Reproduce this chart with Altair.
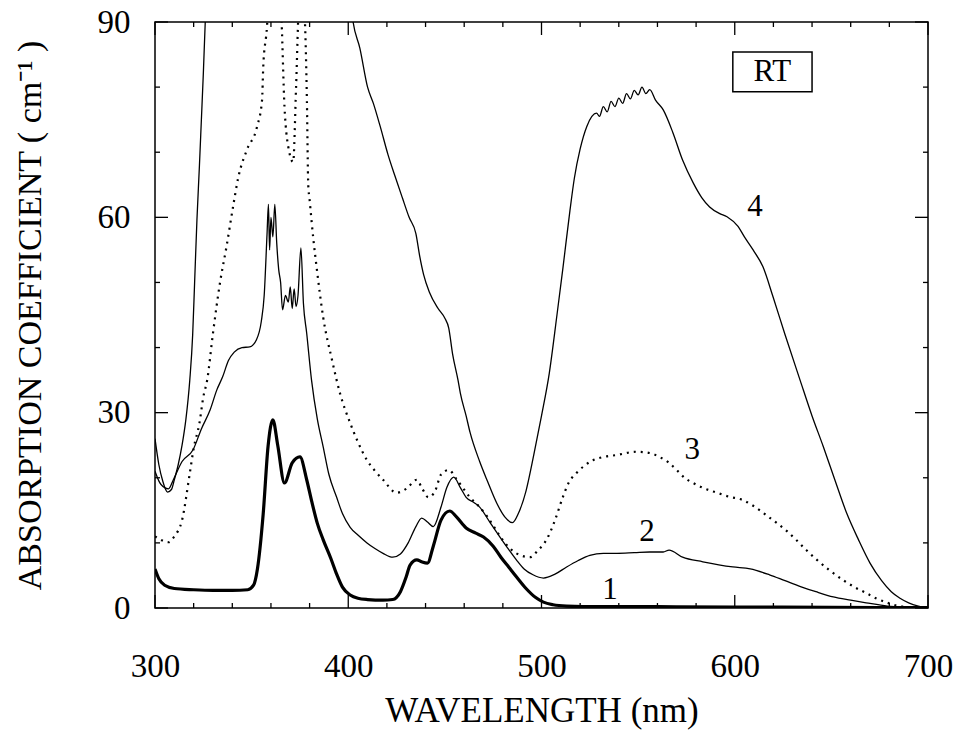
import altair as alt
import pandas as pd

# ---------------- data ----------------
wl1 = [300, 302, 305, 310, 320, 330, 340, 348, 351, 353, 356, 358.5, 361, 363.5, 367, 371, 375, 378.5,
       381, 384, 387, 391, 394, 397, 401, 405, 410, 418, 423, 427, 430, 432, 435.5, 438, 441, 444, 448, 452.5,
       456, 461, 466, 470, 475, 479, 483, 487, 492, 497, 501, 506, 513, 530, 560, 600, 650, 700]
v1 = [6.0, 4.5, 3.5, 3.0, 2.8, 2.7, 2.7, 2.8, 3.5, 6.0, 14.5, 24.8, 28.9, 25.0, 19.2, 22.3, 23.2, 19.7,
      16.5, 13.0, 10.5, 7.6, 5.2, 3.2, 2.0, 1.5, 1.3, 1.2, 1.3, 2.5, 4.8, 6.6, 7.4, 7.1, 6.9, 9.5, 13.5, 14.9,
      14.0, 12.3, 11.5, 10.9, 9.5, 7.8, 6.3, 4.8, 3.0, 1.6, 0.9, 0.5, 0.3, 0.2, 0.2, 0.15, 0.1, 0.05]

wl2 = [300, 303, 307, 309.5, 314, 319.7, 324, 328.5, 332, 335, 338, 341, 345, 349, 352.5, 355, 356.5, 358,
       358.7, 359.3, 360, 361, 362, 363, 364, 365, 366, 367.5, 369, 370, 371, 372, 373, 374, 375.5, 376.8,
       378.5, 381, 384, 387, 390, 394, 397, 401, 405, 409.7, 414, 418, 423, 427, 431, 435, 438, 441, 444,
       448, 451, 454.6, 458, 461, 465, 468, 473, 478.5, 483, 487, 491, 495.6, 501, 507, 513, 519, 525, 532,
       539, 548, 556, 563, 566, 573, 583.5, 599, 608, 618, 626, 634, 642, 651, 660, 668, 679, 690, 700]
v2 = [21, 19, 18.3, 19.7, 22.5, 24.3, 27.5, 30.4, 33.5, 35.5, 38, 39.3, 40, 40.1, 41.2, 44, 48, 57.6,
      62, 55, 60, 57, 62, 56, 52, 50, 45.8, 48, 47, 49.3, 46, 49, 46.3, 48, 55.3, 46.8,
      42.2, 35, 29, 24.8, 20.5, 17, 14.5, 12.4, 11.2, 10, 9.1, 8.4, 7.8, 8.3, 10, 12.5, 13.8, 13.2, 12.5,
      15.5, 18.5, 20.1, 18.5, 17, 16.2, 15.5, 13.3, 10.9, 9, 7.4, 6, 5.1, 4.6, 5.2, 6.3, 7.3, 8.1, 8.4,
      8.4, 8.5, 8.6, 8.6, 8.9, 7.8, 7.1, 6.3, 6.0, 5.1, 4.2, 3.3, 2.5, 1.7, 1.2, 0.8, 0.3, 0.1, 0]

wl3 = [300, 303.5, 307, 310, 314, 318, 320, 323, 325, 327, 330, 333.6, 337, 340.6, 343, 347.6, 352.8,
       355.4, 356, 358, 359, 361, 363.5, 365.5, 367, 369.5, 371.5, 373, 374.5, 376, 377.6, 378.6, 379.3,
       380, 382, 383.6, 387, 391.6, 395.7, 401, 405, 409.7, 414, 418, 425, 430, 435.5, 438, 441.5, 445,
       448, 452, 456, 463, 468, 472, 476, 480, 485, 489, 494, 498, 503, 507, 511, 514, 518, 522, 526.7,
       532, 539, 549, 556, 561, 566, 570, 574, 578.5, 584, 590.8, 597, 604, 609, 613, 617, 622, 627, 632,
       637, 642.5, 649, 656, 662, 668, 673, 679, 687, 695, 700]
v3 = [11, 10.4, 10.1, 11, 13.5, 20.7, 24.5, 28.4, 32.4, 35, 42.2, 49.9, 55.5, 62, 66, 70.4, 73.9,
      78, 83, 89.5, 95, 100, 97, 90, 77, 70, 68.5, 80, 93, 96, 90, 78, 65,
      62.7, 56.5, 52.4, 44.7, 38.1, 33, 28.4, 25.5, 22.7, 21, 19.7, 17.7, 18.3, 19.7, 18.5, 17, 18,
      20.5, 21.2, 19.8, 17, 15.5, 14, 12.2, 10.4, 8.8, 8.1, 7.8, 8.8, 10.7, 13.5, 17, 19.2, 20.7, 21.8, 22.7,
      23.2, 23.5, 24, 23.8, 23.2, 22.3, 21.2, 20, 19.2, 18.4, 17.7, 17.1, 16.6, 15.8, 15, 14.1, 13, 11.8, 10.4,
      8.9, 7.4, 5.8, 4.3, 3.2, 2.3, 1.5, 0.8, 0.2, 0.05, 0]

wl4 = [300, 302, 304, 306.5, 308.5, 310, 312, 314, 316, 318, 319.5, 320.5, 321.7, 323, 324, 325, 326,
       327, 328, 329, 399, 402.5, 406, 410, 413, 416.5, 420.6, 424, 428, 431.5, 435, 437, 439, 442, 446.5,
       450, 452, 454, 456.8, 458, 461, 463, 468, 472, 477, 481, 485, 488, 492, 496, 500, 504, 508, 511,
       514.7, 517, 520, 523.5, 528.5, 530, 532, 534, 536, 538, 540, 542, 544, 546, 548, 550, 552, 554,
       556, 559, 563, 568, 573, 578.5, 583, 587, 592, 596, 601.7, 605, 609.5, 614.6, 619.8, 626, 633.8,
       640, 645.8, 652, 658, 664, 670, 676, 681, 685.5, 690, 695, 700]
v4 = [26, 22, 19.5, 17.8, 18.2, 19.7, 22, 25, 29, 35, 42, 50, 59.6, 68, 75, 82, 90,
      96, 100, 105, 100, 90, 86, 80, 77.5, 74, 69.6, 66.5, 63, 60, 57.5, 54, 51.2, 48.5, 46,
      44.5, 43, 39, 35, 33, 29.5, 27, 22.5, 19.5, 16, 14, 13.1, 14.5, 18, 23.5, 29.5, 36, 45, 52,
      61, 66, 70.5, 74, 76, 75.5, 77, 76.2, 77.8, 77, 78.3, 77.5, 79, 78.2, 79.5, 78.8, 80, 79,
      79.6, 78, 76.5, 73, 68.8, 65.3, 63, 61.6, 60.6, 60.1, 58.6, 57, 55, 52.4, 47.8, 42, 35,
      29.5, 24.8, 19.5, 14.5, 10.5, 6.9, 4.2, 2.5, 1.5, 0.8, 0.3, 0]

label_text = ["1", "2", "3", "4"]
label_wl = [535.5, 554.6, 578, 610.5]
label_v = [2.8, 11.7, 24.3, 61.6]

rt_text = ["RT"]
rt_wl = [599, 640]
rt_v = [79.3, 85.4]

x_major = [300, 400, 500, 600, 700]
x_minor = [320, 340, 360, 380, 420, 440, 460, 480, 520, 540, 560, 580, 620, 640, 660, 680]
y_major = [0, 30, 60, 90]
y_minor = [10, 20, 40, 50, 70, 80]

# ---------------- chart ----------------
W, H = 773, 586
FONT = "Liberation Serif"
MAJ, MIN = 13, 5

xs = alt.Scale(domain=[300, 700], nice=False, zero=False)
ys = alt.Scale(domain=[0, 90], nice=False, zero=False)

x_axis = alt.Axis(values=x_major, ticks=False, domain=False, grid=False, labelFlush=False,
                  labelFont=FONT, labelFontSize=33, labelPadding=42, labelColor="black",
                  title="WAVELENGTH (nm)", titleFont=FONT, titleFontSize=35, titleFontWeight="normal",
                  titleColor="black", titlePadding=10, format="d")
y_axis = alt.Axis(values=y_major, ticks=False, domain=False, grid=False, labelFlush=False,
                  labelFont=FONT, labelFontSize=33, labelPadding=25, labelColor="black",
                  title="ABSORPTION COEFFICIENT ( cm\u207B\u00B9 )", titleFont=FONT, titleFontSize=34,
                  titleFontWeight="normal", titleColor="black", titlePadding=50, format="d")


def curve(wl, v, **mark):
    df = pd.DataFrame({"wl": wl, "v": v})
    return alt.Chart(df).mark_line(clip=True, color="black", interpolate="monotone", **mark).encode(
        x=alt.X("wl:Q", scale=xs, axis=x_axis),
        y=alt.Y("v:Q", scale=ys, axis=y_axis),
    )


c1 = curve(wl1, v1, strokeWidth=3.2)
c2 = curve(wl2, v2, strokeWidth=1.3)
c3 = curve(wl3, v3, strokeWidth=2.2, strokeDash=[2, 5])
c4 = curve(wl4, v4, strokeWidth=1.3)

labels = alt.Chart(pd.DataFrame({"t": label_text, "wl": label_wl, "v": label_v})).mark_text(
    font=FONT, fontSize=31, color="black", align="center", baseline="middle"
).encode(x=alt.X("wl:Q", scale=xs), y=alt.Y("v:Q", scale=ys), text="t:N")

rt_box = alt.Chart(pd.DataFrame({"x": [rt_wl[0]], "x2": [rt_wl[1]], "y": [rt_v[0]], "y2": [rt_v[1]]})).mark_rect(
    fill="white", stroke="black", strokeWidth=1.5
).encode(x=alt.X("x:Q", scale=xs), x2="x2", y=alt.Y("y:Q", scale=ys), y2="y2")
rt_label = alt.Chart(pd.DataFrame({"t": rt_text, "x": [sum(rt_wl) / 2], "y": [sum(rt_v) / 2]})).mark_text(
    font=FONT, fontSize=31, color="black", align="center", baseline="middle"
).encode(x=alt.X("x:Q", scale=xs), y=alt.Y("y:Q", scale=ys), text="t:N")


def xticks(vals, length):
    df = pd.DataFrame({"x": vals})
    bottom = alt.Chart(df).mark_rule(color="black", strokeWidth=1.3).encode(
        x=alt.X("x:Q", scale=xs), y=alt.value(H), y2=alt.value(H - length))
    top = alt.Chart(df).mark_rule(color="black", strokeWidth=1.3).encode(
        x=alt.X("x:Q", scale=xs), y=alt.value(0), y2=alt.value(length))
    return [bottom, top]


def yticks(vals, length):
    df = pd.DataFrame({"y": vals})
    left = alt.Chart(df).mark_rule(color="black", strokeWidth=1.3).encode(
        y=alt.Y("y:Q", scale=ys), x=alt.value(0), x2=alt.value(length))
    right = alt.Chart(df).mark_rule(color="black", strokeWidth=1.3).encode(
        y=alt.Y("y:Q", scale=ys), x=alt.value(W), x2=alt.value(W - length))
    return [left, right]


layers = [c4, c3, c2, c1, labels, rt_box, rt_label]
layers += xticks(x_major, MAJ) + xticks(x_minor, MIN) + yticks(y_major, MAJ) + yticks(y_minor, MIN)

chart = alt.layer(*layers).properties(
    width=W, height=H,
    autosize=alt.AutoSizeParams(type="none"),
    padding={"left": 155, "top": 22, "right": 30, "bottom": 122},
    background="white",
).configure(font=FONT).configure_view(stroke="black", strokeWidth=1.5)

chart.save("out.html", embed_options={"renderer": "svg", "actions": False})
